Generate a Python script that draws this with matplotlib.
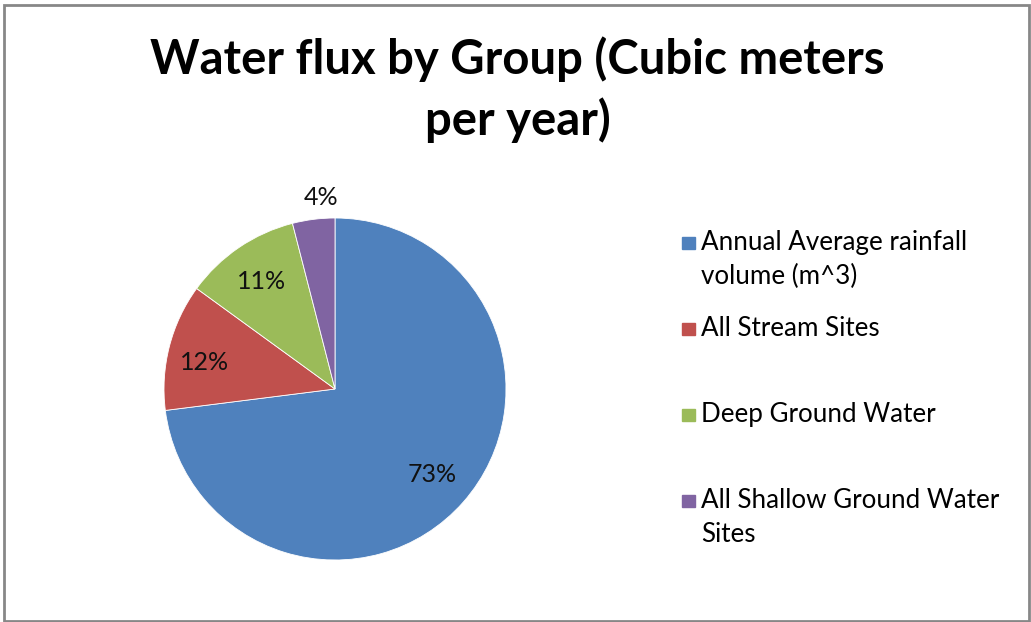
import matplotlib.pyplot as plt
from matplotlib.patches import Rectangle
import numpy as np

# data
labels = [
    ["Annual Average rainfall", "volume (m^3)"],
    ["All Stream Sites"],
    ["Deep Ground Water"],
    ["All Shallow Ground Water", "Sites"],
]
shares = [73, 12, 11, 4]
colors = ["#4F81BD", "#C0504D", "#9BBB59", "#8064A2"]
pct_text = ["73%", "12%", "11%", "4%"]

W, H = 1031, 622
fig = plt.figure(figsize=(W / 100, H / 100), dpi=100)


def px(x, y):
    return x / W, 1 - y / H


# outer chart border
fig.patches.append(Rectangle((3.5 / W, 1.5 / H), 1025 / W, 616 / H,
                             transform=fig.transFigure, fill=False,
                             edgecolor="#878787", linewidth=2))

# title
fig.text(*px(517, 74), "Water flux by Group (Cubic meters", ha="center",
         va="baseline", fontsize=34, fontweight="bold", family="Lato")
fig.text(*px(518, 135), "per year)", ha="center", va="baseline",
         fontsize=34, fontweight="bold", family="Lato")

# pie
cx, cy, r = 335, 389, 171
ax = fig.add_axes([(cx - r) / W, (H - cy - r) / H, 2 * r / W, 2 * r / H])
wedges, _ = ax.pie(shares, colors=colors, startangle=90, counterclock=False,
                   wedgeprops=dict(edgecolor="white", linewidth=0.6))
ax.set_xlim(-1, 1)
ax.set_ylim(-1, 1)
ax.axis("off")

# excel "best fit" label placement: radius and small angular nudge
label_r = [0.76, 0.78, 0.76, 1.12]
label_nudge = [0, 3, 0, -3]
for w, t, lr, dn in zip(wedges, pct_text, label_r, label_nudge):
    ang = np.deg2rad((w.theta1 + w.theta2) / 2 + dn)
    ax.text(lr * np.cos(ang), lr * np.sin(ang), t, ha="center", va="center",
            fontsize=18, family="Lato", color="#111111", clip_on=False)

# legend (Excel spaces entries evenly by their tops)
baselines = [250, 336, 422, 508]
for lines, col, by in zip(labels, colors, baselines):
    fig.patches.append(Rectangle(px(682, by - 1), 13 / W, 12 / H,
                                 transform=fig.transFigure, color=col))
    for i, line in enumerate(lines):
        fig.text(*px(701, by + 34 * i), line, ha="left", va="baseline",
                 fontsize=18.7, family="Lato")

fig.savefig("out.png", dpi=100, facecolor="white")
